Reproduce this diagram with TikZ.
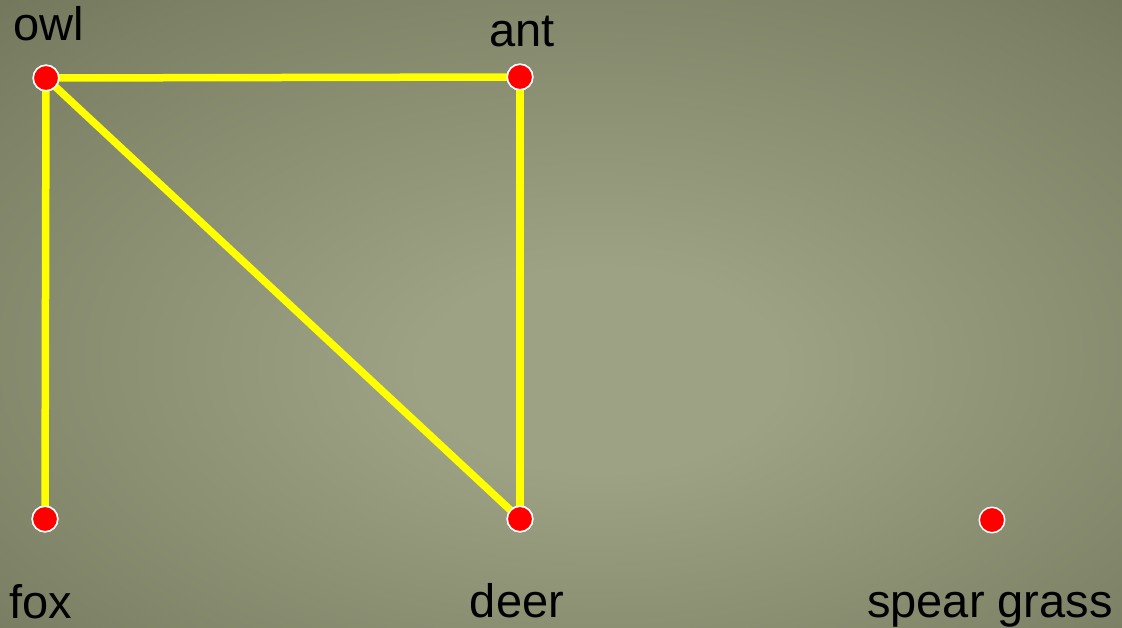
\documentclass[tikz,border=0pt]{standalone}
\usepackage{fontspec}
\setmainfont{Liberation Sans}
\definecolor{bgin}{RGB}{157,162,132}
\definecolor{bgmid}{RGB}{125,130,102}
\definecolor{bgout}{RGB}{92,96,72}
\definecolor{bgcorner}{RGB}{84,88,64}
\definecolor{edgey}{RGB}{255,255,0}
\pgfdeclareradialshading{bgshade}{\pgfpoint{2bp}{-5bp}}{color(0bp)=(bgin); color(8bp)=(bgin); color(32bp)=(bgmid); color(52bp)=(bgout); color(72bp)=(bgcorner)}
\tikzset{
  vtx/.style={circle, fill=red, draw=white, line width=1.5pt, minimum size=25.5pt, inner sep=0pt},
  lbl/.style={font=\fontsize{47}{56}\selectfont, text=black, inner sep=0pt, anchor=base},
  edg/.style={draw=edgey, line width=7.5pt}
}
\begin{document}
\begin{tikzpicture}[x=1pt,y=-1pt]
\shade[shading=bgshade] (0,0) rectangle (1122,628);
\useasboundingbox (0,0) rectangle (1122,628);
\node[vtx] (owl) at (46,78) {};
\node[vtx] (ant) at (520,77) {};
\node[vtx] (fox) at (45,519) {};
\node[vtx] (deer) at (520,519) {};
\node[vtx] (sg) at (992,520) {};
\node[lbl] (lowl) at (49,41) {owl};
\node[lbl] (lant) at (522,47) {ant};
\node[lbl] (lfox) at (41,618) {fox};
\node[lbl] (ldeer) at (517,617) {deer};
\node[lbl] (lsg) at (990,617) {spear grass};
\draw[edg] (owl.center) -- (ant.center);
\draw[edg] (owl.center) -- (fox.center);
\draw[edg] (owl.center) -- (deer.center);
\draw[edg] (ant.center) -- (deer.center);
\node[vtx] at (owl) {};
\node[vtx] at (ant) {};
\node[vtx] at (fox) {};
\node[vtx] at (deer) {};
\end{tikzpicture}
\end{document}
